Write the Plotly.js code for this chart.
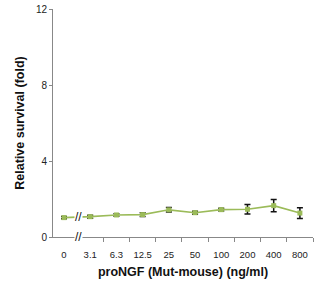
<!DOCTYPE html>
<html><head><meta charset="utf-8">
<script src="https://cdn.plot.ly/plotly-3.0.1.min.js"></script>
<style>html,body{margin:0;padding:0;background:#fff;}#chart{width:332px;height:284px;}</style>
</head><body><div id="chart"></div>
<script>
const categories = ["0","3.1","6.3","12.5","25","50","100","200","400","800"];
const survival = [1.02, 1.07, 1.16, 1.18, 1.43, 1.28, 1.44, 1.46, 1.65, 1.26];
const errors = [0.06, 0.08, 0.07, 0.10, 0.12, 0.08, 0.07, 0.25, 0.32, 0.28];
const yTicks = [0, 4, 8, 12];

const idx = categories.map((c, i) => i);
const FONT = '"Liberation Sans Narrow", "Liberation Sans", Arial, sans-serif';
const BOLD = 'Arial, "Liberation Sans", sans-serif';

const trace = {
  x: idx, y: survival, type: 'scatter', mode: 'lines+markers',
  line: {color: '#9bbb59', width: 1.6},
  marker: {color: '#9bbb59', size: 5, symbol: 'square'},
  error_y: {type: 'data', array: errors, visible: true, color: '#111', thickness: 1.5, width: 3},
  hoverinfo: 'skip', showlegend: false
};
const tickTrace = {x: [0], y: [0], xaxis: 'x2', mode: 'markers', marker: {opacity: 0}, showlegend: false, hoverinfo: 'skip'};

const layout = {
  width: 332, height: 284,
  margin: {l: 53, r: 19, t: 9, b: 47},
  paper_bgcolor: '#fff', plot_bgcolor: '#fff',
  font: {family: FONT, size: 9, color: '#222'},
  xaxis: {
    range: [-0.42, 9.5], tickvals: idx, ticktext: categories, ticks: '',
    showline: true, linecolor: '#888', linewidth: 1, showgrid: false, zeroline: false,
    tickfont: {family: FONT, size: 9.5, color: '#222'}, ticklabelstandoff: 9,
    title: {text: 'proNGF (Mut-mouse) (ng/ml)', font: {family: BOLD, size: 12.5, color: '#111', weight: 'bold'}, standoff: 7}
  },
  xaxis2: {
    overlaying: 'x', range: [-0.42, 9.5], tickvals: [1.5,2.5,3.5,4.5,5.5,6.5,7.5,8.5,9.5],
    showticklabels: false, ticks: 'outside', ticklen: 4, tickcolor: '#888', showgrid: false, zeroline: false, showline: false
  },
  yaxis: {
    range: [0, 12], tickvals: yTicks, ticks: 'outside', ticklen: 3, tickcolor: '#888',
    showline: true, linecolor: '#888', linewidth: 1, showgrid: false, zeroline: false,
    tickfont: {family: FONT, size: 10, color: '#222'},
    title: {text: 'Relative survival (fold)', font: {family: BOLD, size: 12.5, color: '#111', weight: 'bold'}, standoff: 8}
  },
  annotations: [
    {x: 0.55, y: 0, xref: 'x', yref: 'y', text: '//', showarrow: false, font: {family: FONT, size: 12, color: '#111'}, bgcolor: '#fff', borderpad: 0},
    {x: 0.55, y: 1.05, xref: 'x', yref: 'y', text: '//', showarrow: false, font: {family: FONT, size: 12, color: '#111'}, bgcolor: '#fff', borderpad: 0}
  ]
};
Plotly.newPlot('chart', [trace, tickTrace], layout, {staticPlot: true, displayModeBar: false});
</script></body></html>
